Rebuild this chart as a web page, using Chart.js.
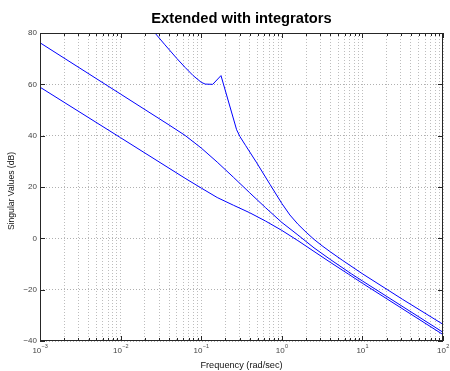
<!DOCTYPE html>
<html><head><meta charset="utf-8">
<script src="https://cdn.jsdelivr.net/npm/chart.js@4.4.0/dist/chart.umd.min.js"></script>
<style>html,body{margin:0;padding:0;background:#fff;overflow:hidden}#wrap{width:450px;height:371px;position:relative}</style>
</head><body><div id="wrap"><canvas id="c" width="450" height="371"></canvas></div>
<script>
// ---- texts and tick labels ----
const titleText = 'Extended with integrators';
const xLabelText = 'Frequency (rad/sec)';
const yLabelText = 'Singular Values (dB)';
const xDecadeExponents = [-3, -2, -1, 0, 1, 2];
const xTickLabelExps = ['\u22123', '\u22122', '\u22121', '0', '1', '2'];
const yMin = -40, yMax = 80, yStep = 20;

// ---- series (frequency in rad/sec, singular value in dB) ----
const freqTop = [0.02, 0.0267, 0.0355, 0.0501, 0.0631, 0.0794, 0.1, 0.112, 0.139, 0.176, 0.275, 0.303, 0.355, 0.489, 0.714, 1, 1.26, 1.585, 2.0, 2.51, 3.16, 3.98, 5.62, 10, 31.6, 100];
const svTop   = [84.6, 80.0, 75.4, 70.0, 66.6, 63.4, 60.8, 60.1, 60.0, 63.4, 42.3, 39.6, 36.2, 29.4, 21.0, 13.6, 9.1, 5.5, 2.4, -0.4, -2.9, -5.2, -8.5, -13.8, -23.8, -33.5];

const freqMid = [0.001, 0.01, 0.0398, 0.0631, 0.1, 0.158, 0.251, 0.398, 0.631, 1, 1.585, 2.51, 3.98, 7.36, 10, 100];
const svMid   = [76.2, 56.2, 44.2, 40.1, 35.2, 29.7, 23.8, 17.8, 11.9, 6.2, 1.3, -3.7, -8.2, -13.9, -16.6, -36.6];

const freqLow = [0.001, 0.01, 0.0631, 0.1, 0.158, 0.251, 0.398, 0.631, 1, 1.585, 2.51, 3.98, 6.68, 10, 100];
const svLow   = [58.9, 39.2, 23.4, 19.6, 15.9, 12.9, 10.0, 6.7, 3.1, -0.9, -5.1, -9.3, -13.9, -17.5, -37.5];

const toPts = (xs, ys) => xs.map((x, i) => ({x: x, y: ys[i]}));

const FONT = '"Liberation Sans", Arial, Helvetica, sans-serif';

const decorations = {
  id: 'decorations',
  afterDraw(chart) {
    const ctx = chart.ctx;
    const a = chart.chartArea;
    const xs = chart.scales.x, ys = chart.scales.y;
    ctx.save();
    // frame
    ctx.strokeStyle = '#262626';
    ctx.lineWidth = 1;
    ctx.strokeRect(Math.round(a.left) + 0.5, Math.round(a.top) + 0.5, Math.round(a.right - a.left) - 1, Math.round(a.bottom - a.top) - 1);
    // inward ticks
    ctx.beginPath();
    xs.ticks.forEach(t => {
      const px = Math.round(xs.getPixelForValue(t.value)) + 0.5;
      const len = t.major ? 5 : 3;
      ctx.moveTo(px, a.bottom); ctx.lineTo(px, a.bottom - len);
      ctx.moveTo(px, a.top); ctx.lineTo(px, a.top + len);
    });
    ys.ticks.forEach(t => {
      const py = Math.round(ys.getPixelForValue(t.value)) + 0.5;
      ctx.moveTo(a.left, py); ctx.lineTo(a.left + 5, py);
      ctx.moveTo(a.right, py); ctx.lineTo(a.right - 5, py);
    });
    ctx.stroke();
    // x tick labels 10^n
    ctx.fillStyle = '#444';
    ctx.textBaseline = 'alphabetic';
    ctx.textAlign = 'left';
    xDecadeExponents.forEach((e, i) => {
      const px = xs.getPixelForValue(Math.pow(10, e));
      ctx.font = '8px ' + FONT;
      const w1 = ctx.measureText('10').width;
      ctx.font = '5.5px ' + FONT;
      const w2 = ctx.measureText(xTickLabelExps[i]).width;
      const x0 = px - (w1 + w2) / 2;
      ctx.font = '8px ' + FONT;
      ctx.fillText('10', x0, 353);
      ctx.font = '5.5px ' + FONT;
      ctx.fillText(xTickLabelExps[i], x0 + w1 + 0.3, 347.5);
    });
    // title
    ctx.fillStyle = '#000';
    ctx.textAlign = 'center';
    ctx.font = 'bold 14.7px ' + FONT;
    ctx.fillText(titleText, (a.left + a.right) / 2, 23);
    // x label
    ctx.font = '9.2px ' + FONT;
    ctx.fillStyle = '#111';
    ctx.fillText(xLabelText, (a.left + a.right) / 2, 368);
    // y label
    ctx.save();
    ctx.translate(14, 191);
    ctx.rotate(-Math.PI / 2);
    ctx.font = '8.6px ' + FONT;
    ctx.fillText(yLabelText, 0, 0);
    ctx.restore();
    ctx.restore();
  }
};

const lineStyle = {borderColor: '#0000ff', backgroundColor: '#0000ff', borderWidth: 1, pointRadius: 0, tension: 0, fill: false};

new Chart(document.getElementById('c'), {
  type: 'line',
  data: {
    datasets: [
      Object.assign({label: 'sv1', data: toPts(freqTop, svTop)}, lineStyle),
      Object.assign({label: 'sv2', data: toPts(freqMid, svMid)}, lineStyle),
      Object.assign({label: 'sv3', data: toPts(freqLow, svLow)}, lineStyle)
    ]
  },
  options: {
    responsive: false,
    animation: false,
    events: [],
    layout: {padding: {top: 33, right: 7, left: 0, bottom: 0}},
    plugins: {legend: {display: false}, title: {display: false}, tooltip: {enabled: false}},
    scales: {
      x: {
        type: 'logarithmic',
        min: Math.pow(10, xDecadeExponents[0]),
        max: Math.pow(10, xDecadeExponents[xDecadeExponents.length - 1]),
        afterBuildTicks(scale) {
          const ticks = [];
          xDecadeExponents.forEach((e, i) => {
            const last = i === xDecadeExponents.length - 1;
            for (let m = 1; m <= (last ? 1 : 9); m++) {
              ticks.push({value: m * Math.pow(10, e), major: m === 1});
            }
          });
          scale.ticks = ticks;
        },
        afterFit(scale) { scale.height = 30; },
        ticks: {display: false},
        grid: {color: '#bdbdbd', lineWidth: 1, drawTicks: false},
        border: {display: false, dash: [1, 2]}
      },
      y: {
        type: 'linear',
        min: yMin, max: yMax,
        afterFit(scale) { scale.width = 40; },
        ticks: {
          stepSize: yStep,
          padding: 3,
          color: '#444',
          font: {size: 8, family: FONT},
          callback: v => (v < 0 ? '\u2212' + Math.abs(v) : String(v))
        },
        grid: {color: '#b0b0b0', lineWidth: 1, drawTicks: false},
        border: {display: false, dash: [1, 2]}
      }
    }
  },
  plugins: [decorations]
});
</script>
</body></html>
